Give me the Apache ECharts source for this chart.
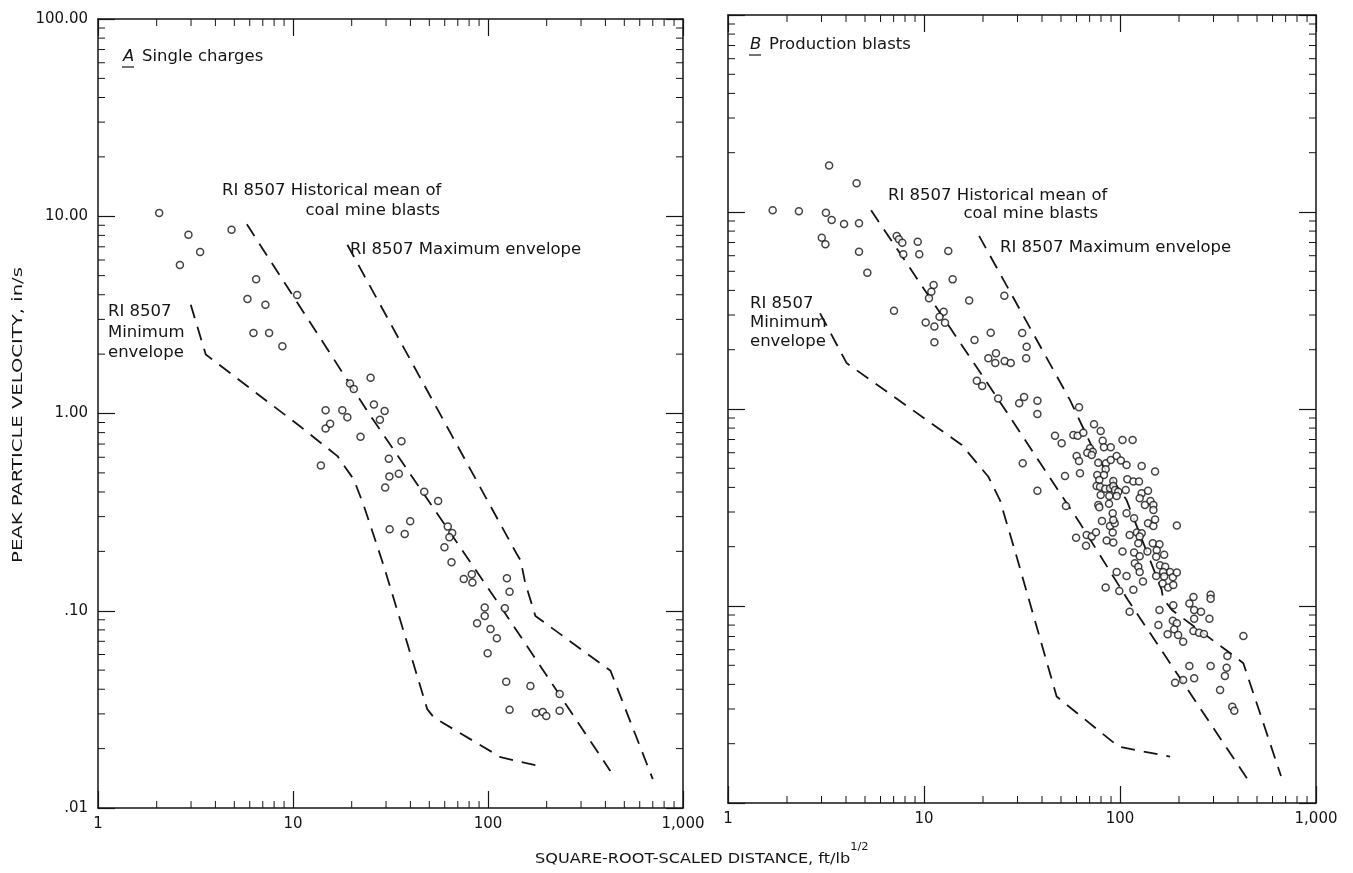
<!DOCTYPE html>
<html><head><meta charset="utf-8">
<script src="https://cdn.jsdelivr.net/npm/echarts@6/dist/echarts.min.js"></script>
<style>html,body{margin:0;padding:0;background:#fff}#c{width:1353px;height:873px}</style>
</head><body><div id="c"></div>
<script>
// ---- tick labels (indexed by decade exponent) ----
const xTickLabels = ['1', '10', '100', '1,000'];            // 10^0 .. 10^3
const yTickLabels = ['.01', '.10', '1.00', '10.00', '100.00']; // 10^-2 .. 10^2
// ---- minor tick values (2..9 within each decade) ----
const xMinorTicks = [2,3,4,5,6,7,8,9, 20,30,40,50,60,70,80,90, 200,300,400,500,600,700,800,900];
const yMinorTicks = [0.02,0.03,0.04,0.05,0.06,0.07,0.08,0.09, 0.2,0.3,0.4,0.5,0.6,0.7,0.8,0.9,
                     2,3,4,5,6,7,8,9, 20,30,40,50,60,70,80,90];

// ---- A: single charges ----
const singlePoints = [
  [2.06,10.4],[2.91,8.06],[3.34,6.59],[2.63,5.66],[4.84,8.55],
  [6.47,4.79],[5.84,3.81],[7.22,3.56],[10.5,3.99],[6.27,2.56],[7.54,2.56],[8.82,2.19],
  [19.6,1.42],[20.5,1.33],[25.0,1.52],[14.7,1.04],[17.9,1.04],[19.0,0.958],[14.7,0.84],[15.5,0.887],
  [26.0,1.11],[29.5,1.03],[27.9,0.93],[22.2,0.762],[36.0,0.724],
  [13.9,0.545],[31.0,0.590],[31.2,0.480],[34.9,0.495],[29.7,0.421],[47.1,0.401],[55.5,0.360],
  [31.3,0.259],[37.4,0.245],[39.9,0.284],[62.2,0.267],[65.5,0.248],[63.4,0.236],[59.8,0.210],[65.0,0.176],
  [82.6,0.153],[75.1,0.145],[83.2,0.139],[125,0.146],[129,0.125],[96.2,0.104],[96.2,0.094],[87.9,0.0865],
  [103,0.0809],[122,0.103],[111,0.0726],[99.6,0.0609],[124,0.0436],[165,0.0415],[129,0.0315],
  [176,0.0303],[191,0.0307],[199,0.0293],[233,0.0378],[233,0.0311]
];
const singleMean = [[5.8,9.1],[24.5,1.0],[120,0.1],[424,0.0154]];
const singleMax  = [[19.0,7.17],[140,0.195],[147,0.180],[155,0.139],[175,0.0941],[425,0.0496],[700,0.0140]];
const singleMin  = [[2.99,3.56],[3.57,1.99],[10.9,0.859],[16.9,0.608],[20.5,0.463],[23.1,0.340],[29.2,0.169],[48.8,0.0317],[52.7,0.0288],[116,0.0181],[179,0.0164]];

// ---- B: production blasts ----
const prodPoints = [
  [3.28,17.2],[4.53,14.0],[1.69,10.2],[2.30,10.1],[3.16,9.92],[3.38,9.10],[3.91,8.69],[4.66,8.76],[3.01,7.41],[3.14,6.86],[4.66,6.29],[5.14,4.92],
  [7.26,7.56],[7.45,7.27],[7.75,6.99],[7.84,6.10],[9.29,7.07],[9.46,6.10],[13.3,6.34],[14.0,4.55],
  [11.2,4.26],[10.9,3.94],[10.6,3.65],[17.0,3.55],[7.03,3.15],[12.6,3.12],[12.0,2.94],[12.8,2.74],[10.2,2.75],[11.3,2.62],[11.3,2.18],
  [21.9,2.44],[18.1,2.24],[23.3,1.92],[21.3,1.81],[23.1,1.71],[25.8,1.75],[27.7,1.71],[18.6,1.39],[19.8,1.31],[23.9,1.13],
  [25.7,3.76],[31.7,2.43],[33.4,2.07],[33.2,1.81],[30.6,1.07],[32.4,1.15],[37.9,1.10],[37.9,0.943],[31.9,0.530],[37.9,0.385],
  [61.8,1.02],[73.7,0.836],[79.7,0.773],[46.6,0.732],[50.4,0.670],[57.8,0.738],[60.8,0.732],[65.0,0.758],[81.6,0.690],[89.7,0.639],[82.8,0.639],[103,0.696],[116,0.696],
  [70.3,0.632],[72.6,0.607],[68.1,0.600],[71.7,0.584],[60.1,0.577],[61.8,0.545],[62.5,0.472],[52.4,0.457],[53.0,0.322],
  [77.5,0.534],[84.8,0.530],[89.7,0.551],[96.2,0.577],[101,0.547],[108,0.520],[84.5,0.494],[129,0.514],[151,0.481],[76.6,0.462],[82.8,0.462],
  [78.4,0.436],[92.4,0.431],[109,0.440],[117,0.428],[125,0.428],
  [76.0,0.407],[79.1,0.403],[84.1,0.394],[88.9,0.396],[92.4,0.407],[94.3,0.388],[98.0,0.380],[88.2,0.362],[96.2,0.362],[79.7,0.366],[107,0.388],
  [129,0.373],[126,0.352],[139,0.385],[143,0.341],[148,0.326],[134,0.326],[148,0.307],
  [77.5,0.326],[78.4,0.317],[87.9,0.330],[91.8,0.296],[108,0.296],[80.9,0.270],[88.9,0.255],[94.0,0.263],[92.4,0.273],[91.8,0.236],[118,0.279],
  [139,0.263],[148,0.255],[151,0.275],[195,0.256],[112,0.229],[122,0.236],[129,0.234],[126,0.225],
  [59.7,0.222],[67.6,0.229],[67.1,0.202],[71.7,0.225],[75.4,0.237],[85.5,0.215],[92.4,0.210],
  [124,0.208],[147,0.208],[159,0.206],[103,0.189],[118,0.187],[126,0.179],[138,0.189],[154,0.192],[153,0.178],[168,0.182],
  [119,0.165],[124,0.158],[126,0.149],[160,0.161],[170,0.158],[180,0.149],[166,0.149],[153,0.142],[168,0.141],[186,0.140],[195,0.148],
  [165,0.130],[176,0.124],[187,0.128],[96.2,0.149],[108,0.142],[131,0.133],[84.5,0.124],[99.2,0.119],[117,0.121],
  [112,0.0936],[159,0.0954],[187,0.101],
  [237,0.111],[226,0.103],[290,0.114],[290,0.109],[239,0.0954],[259,0.0936],[239,0.0862],[286,0.0862],[157,0.0801],
  [186,0.0842],[195,0.0817],[189,0.0762],[198,0.0713],[175,0.0718],[210,0.0659],[237,0.0746],[253,0.0732],[268,0.0721],[426,0.0704],
  [353,0.0557],[226,0.0496],[290,0.0496],[350,0.0486],[343,0.0441],[191,0.0408],[210,0.0421],[239,0.0430],[324,0.0375],[374,0.0308],[383,0.0294]
];
const prodMean = [[5.37,10.2],[23.5,1.15],[62.5,0.263],[110,0.107],[450,0.0131]];
const prodMax  = [[19.1,7.56],[55.6,1.11],[76.0,0.573],[108,0.345],[163,0.121],[166,0.109],[184,0.0954],[386,0.0553],[426,0.0512],[663,0.0137]];
const prodMin  = [[2.95,3.06],[4.03,1.71],[15.6,0.656],[21.3,0.453],[24.4,0.345],[29.7,0.178],[47.5,0.0347],[98.5,0.0193],[180,0.0172]];

const INK = '#151515';
const FONT = 'DejaVu Sans';

function expOf(v){ return Math.round(Math.log10(v)); }

function axis(kind, gridIndex, position, showLabels) {
  const isX = kind === 'x';
  return {
    type: 'log', logBase: 10, gridIndex, position,
    min: isX ? 1 : 0.01, max: isX ? 1000 : 100,
    axisLine: { show: true, onZero: false, lineStyle: { color: INK, width: 1.5 } },
    axisTick: { show: true, inside: true, length: 17, lineStyle: { color: INK, width: 1.2 } },
    minorTick: { show: false },
    splitLine: { show: false }, minorSplitLine: { show: false },
    axisLabel: {
      show: showLabels, color: INK, fontFamily: FONT, fontSize: 15,
      margin: isX ? 9 : 10,
      formatter: v => isX ? xTickLabels[expOf(v)] : yTickLabels[expOf(v) + 2]
    }
  };
}

// minor ticks drawn through the axes' own log scales (at 2..9 of each decade)
function minorTickSeries(values, dir, xi, yi) {
  const L = 7;
  return {
    type: 'custom', xAxisIndex: xi, yAxisIndex: yi, silent: true, z: 1, clip: false,
    data: values.map(v => dir === 'x' ? [v, 1] : [10, v]),
    renderItem: (params, api) => {
      const st = { stroke: INK, lineWidth: 1 };
      if (dir === 'x') {
        const v = api.value(0);
        const b = api.coord([v, 0.01]), t = api.coord([v, 100]);
        return { type: 'group', children: [
          { type: 'line', shape: { x1: b[0], y1: b[1], x2: b[0], y2: b[1] - L }, style: st },
          { type: 'line', shape: { x1: t[0], y1: t[1], x2: t[0], y2: t[1] + L }, style: st } ] };
      }
      const v = api.value(1);
      const l = api.coord([1, v]), r = api.coord([1000, v]);
      return { type: 'group', children: [
        { type: 'line', shape: { x1: l[0], y1: l[1], x2: l[0] + L, y2: l[1] }, style: st },
        { type: 'line', shape: { x1: r[0], y1: r[1], x2: r[0] - L, y2: r[1] }, style: st } ] };
    }
  };
}

const dashed = { color: INK, width: 1.8, type: [14, 9] };
function lineSeries(data, xi, yi) {
  return { type: 'line', data, xAxisIndex: xi, yAxisIndex: yi, showSymbol: false, symbol: 'none',
           lineStyle: dashed, silent: true, z: 2 };
}
function scatterSeries(data, xi, yi) {
  return { type: 'scatter', data, xAxisIndex: xi, yAxisIndex: yi, symbol: 'circle', symbolSize: 7,
           itemStyle: { color: '#fff', borderColor: INK, borderWidth: 1.5 }, z: 3 };
}

const SX = 1.1;
function txt(x, y, text, align) {
  return { type: 'text', x, y, scaleX: SX, silent: true,
    style: { text, fill: INK, font: '15px "' + FONT + '"', textAlign: align || 'left', textVerticalAlign: 'middle' } };
}

const chart = echarts.init(document.getElementById('c'));
chart.setOption({
  animation: false,
  backgroundColor: '#fff',
  grid: [
    { left: 98, top: 19, width: 585, height: 789 },
    { left: 728, top: 15, width: 588, height: 788 }
  ],
  xAxis: [
    axis('x', 0, 'bottom', true), axis('x', 0, 'top', false),
    axis('x', 1, 'bottom', true), axis('x', 1, 'top', false)
  ],
  yAxis: [
    axis('y', 0, 'left', true), axis('y', 0, 'right', false),
    axis('y', 1, 'left', false), axis('y', 1, 'right', false)
  ],
  series: [
    minorTickSeries(xMinorTicks, 'x', 0, 0), minorTickSeries(yMinorTicks, 'y', 0, 0),
    minorTickSeries(xMinorTicks, 'x', 2, 2), minorTickSeries(yMinorTicks, 'y', 2, 2),
    lineSeries(singleMean, 0, 0), lineSeries(singleMax, 0, 0), lineSeries(singleMin, 0, 0),
    scatterSeries(singlePoints, 0, 0),
    lineSeries(prodMean, 2, 2), lineSeries(prodMax, 2, 2), lineSeries(prodMin, 2, 2),
    scatterSeries(prodPoints, 2, 2)
  ],
  graphic: [
    // panel A
    { type: 'text', x: 123, y: 57, scaleX: SX, silent: true, style: { text: 'A', fill: INK, font: 'italic 15px "' + FONT + '"', textAlign: 'left', textVerticalAlign: 'middle' } },
    { type: 'line', silent: true, shape: { x1: 122, y1: 67, x2: 134, y2: 67 }, style: { stroke: INK, lineWidth: 1.2 } },
    txt(142, 57, 'Single charges'),
    txt(222, 191, 'RI 8507 Historical mean of'),
    txt(440, 211, 'coal mine blasts', 'right'),
    txt(350, 250, 'RI 8507 Maximum envelope'),
    txt(108, 312, 'RI 8507'),
    txt(108, 333, 'Minimum'),
    txt(108, 353, 'envelope'),
    // panel B
    { type: 'text', x: 750, y: 45, scaleX: SX, silent: true, style: { text: 'B', fill: INK, font: 'italic 15px "' + FONT + '"', textAlign: 'left', textVerticalAlign: 'middle' } },
    { type: 'line', silent: true, shape: { x1: 749, y1: 55, x2: 761, y2: 55 }, style: { stroke: INK, lineWidth: 1.2 } },
    txt(769, 45, 'Production blasts'),
    txt(888, 196, 'RI 8507 Historical mean of'),
    txt(1098, 214, 'coal mine blasts', 'right'),
    txt(1000, 248, 'RI 8507 Maximum envelope'),
    txt(750, 304, 'RI 8507'),
    txt(750, 323, 'Minimum'),
    txt(750, 342, 'envelope'),
    // axis titles
    { type: 'text', x: 18, y: 415, rotation: Math.PI / 2, scaleX: 1.4, silent: true,
      style: { text: 'PEAK PARTICLE VELOCITY, in/s', fill: INK, font: '14px "' + FONT + '"', textAlign: 'center', textVerticalAlign: 'middle' } },
    { type: 'text', x: 535, y: 842, scaleX: 1.15, silent: true,
      style: { text: '{a|SQUARE-ROOT-SCALED DISTANCE, ft/lb}{s|1/2}', fill: INK,
        rich: { a: { fontFamily: FONT, fontSize: 14, lineHeight: 24, verticalAlign: 'bottom', fill: INK, color: INK },
                s: { fontFamily: FONT, fontSize: 10, lineHeight: 22, verticalAlign: 'top', fill: INK, color: INK } } } }
  ]
});
</script></body></html>
